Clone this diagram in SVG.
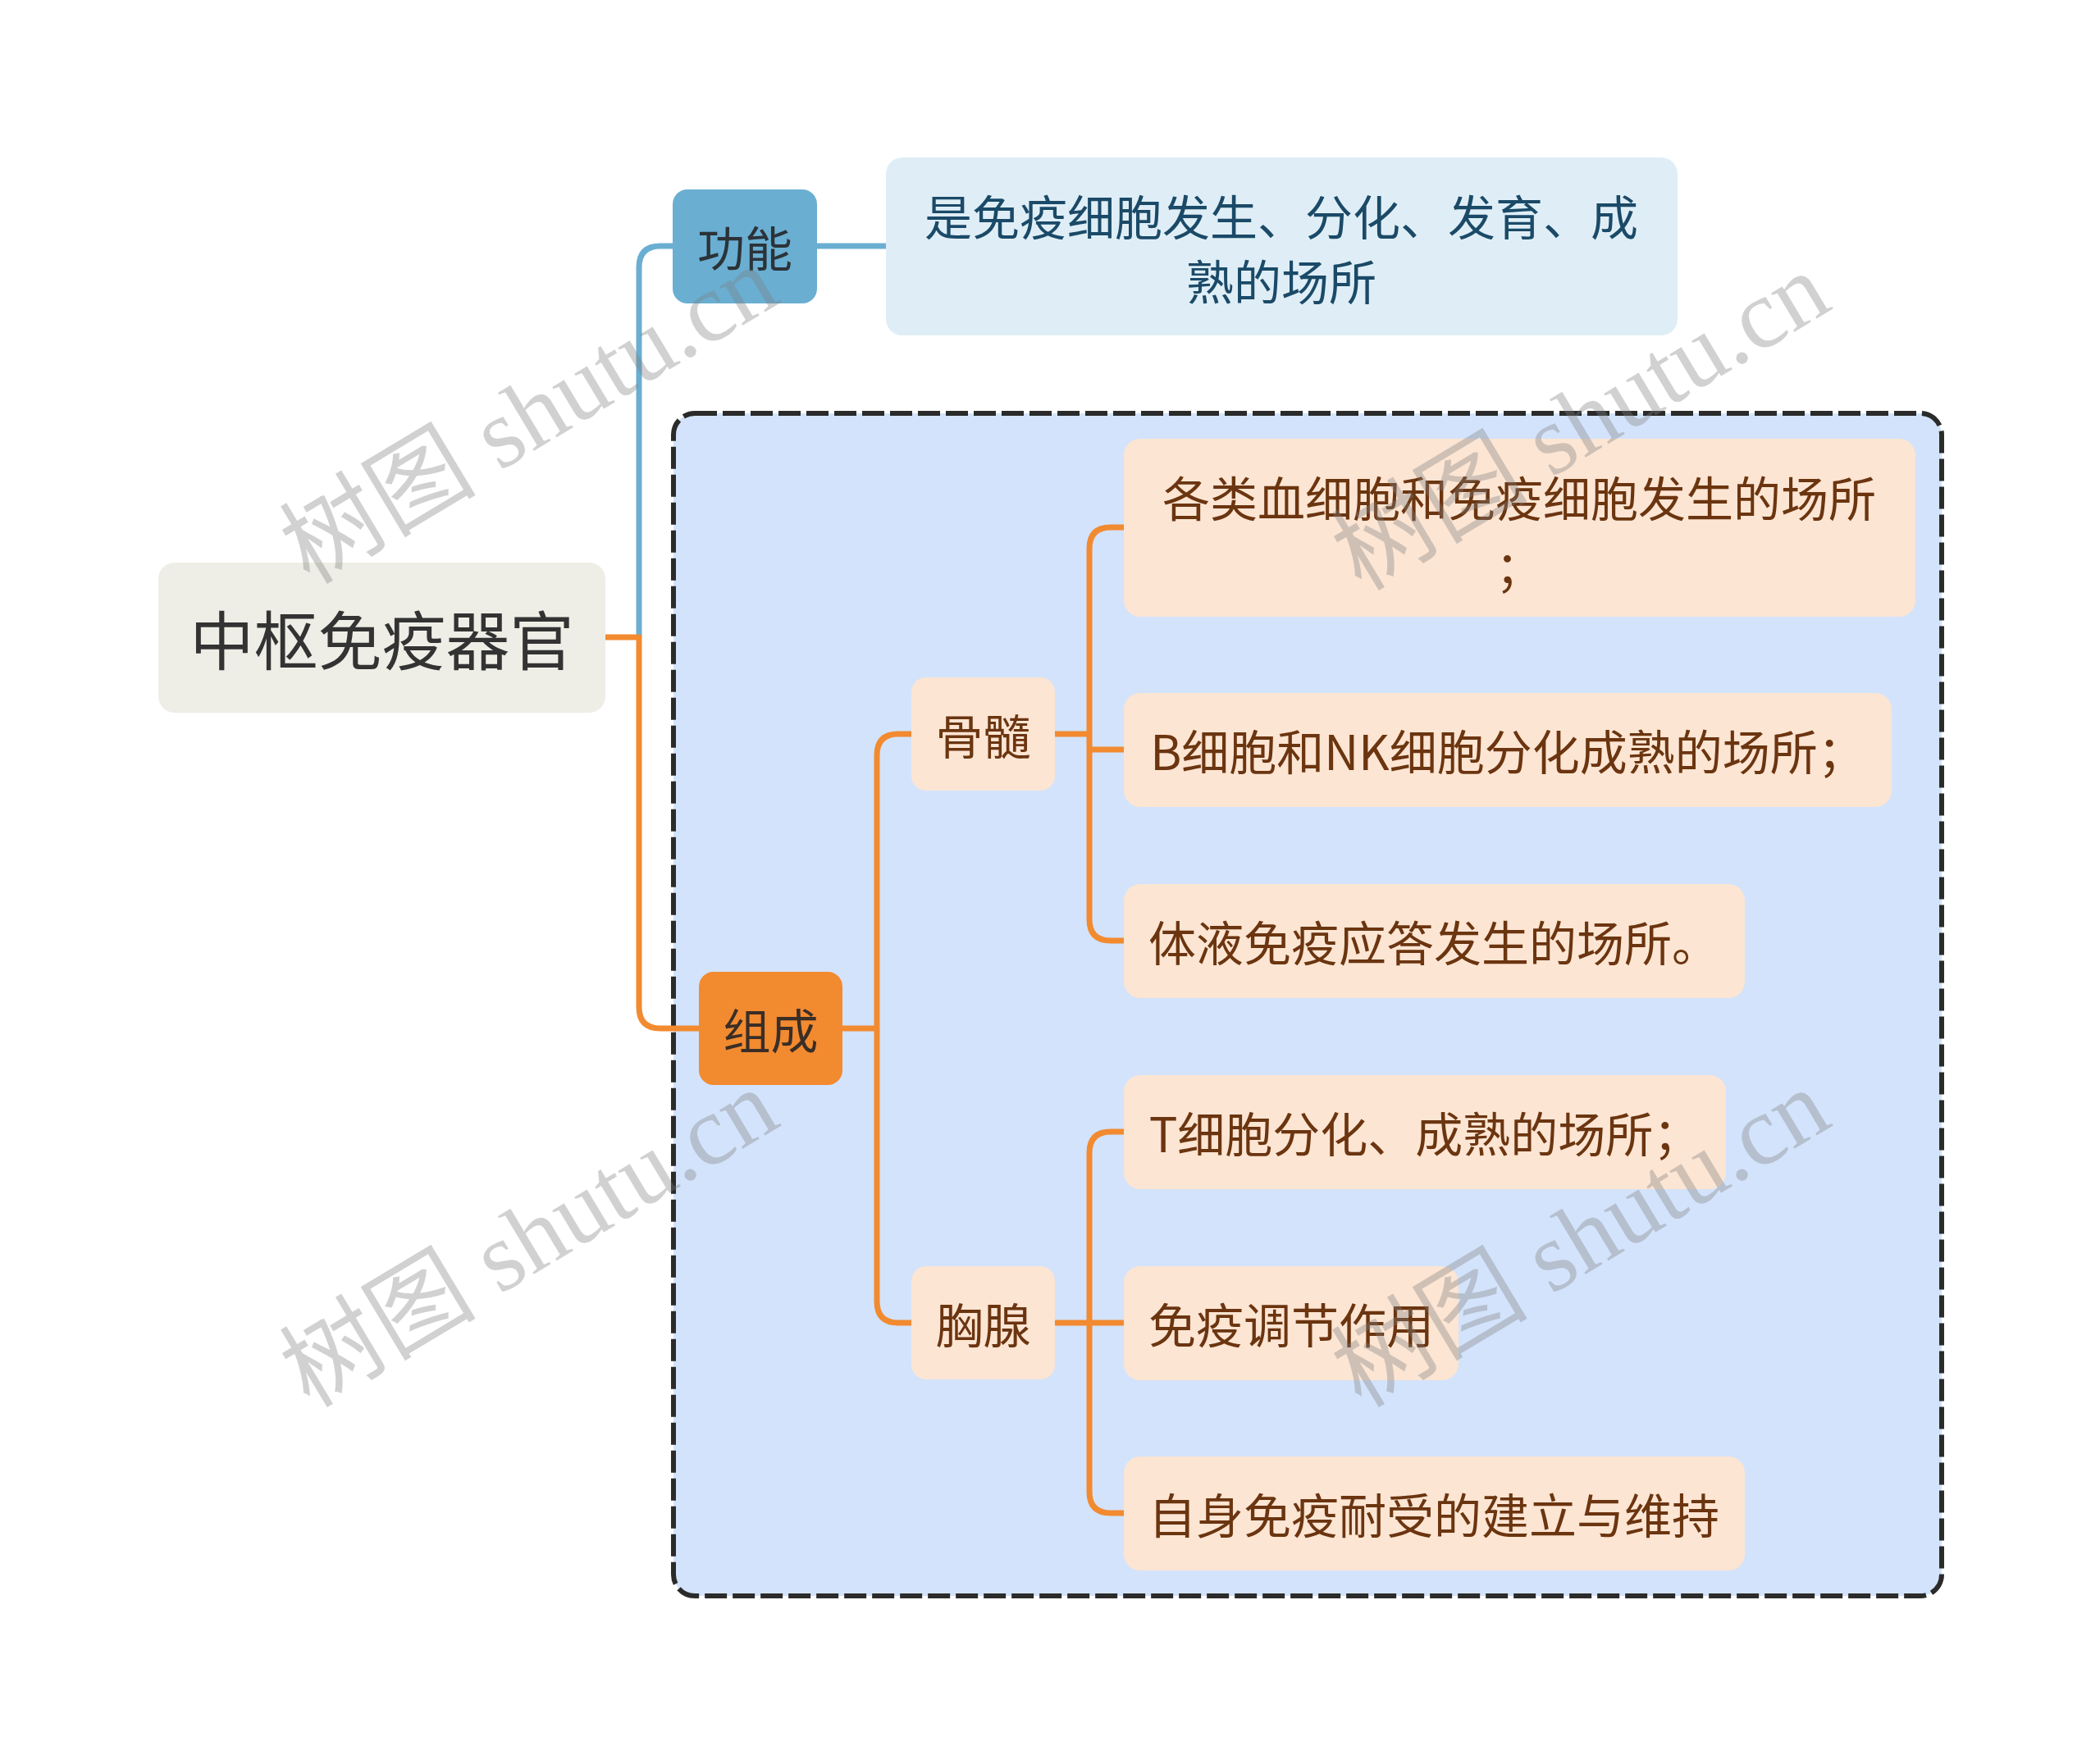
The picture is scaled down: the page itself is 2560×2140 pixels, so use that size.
<svg xmlns="http://www.w3.org/2000/svg" width="2560" height="2140" viewBox="0 0 2560 2140">
<style>
.t{font-family:"Noto Sans CJK SC","Noto Sans",sans-serif;text-anchor:middle;dominant-baseline:central}
.leaf{fill:#fce5d3}
.lt{fill:#6b3510;font-size:58px}
.or{fill:none;stroke:#f28a30;stroke-width:7;stroke-linejoin:round}
.bl{fill:none;stroke:#6aaed2;stroke-width:7}
.wm{font-family:"Liberation Serif","Noto Sans CJK SC",serif;font-size:120px;fill:#808080;fill-opacity:0.36}
</style>
<rect width="2560" height="2140" fill="#ffffff"/>
<g id="group-box">
<rect x="821" y="504" width="1546" height="1442" rx="26" fill="#d3e3fb" stroke="#2b2b2b" stroke-width="6" stroke-dasharray="27 7"/>
</g>
<g id="connectors">
<path class="bl" d="M779,777 V326 Q779,300 805,300 H822"/>
<path class="bl" d="M996,300 H1080"/>
<path class="or" d="M738,777 H779 V1228 Q779,1254 805,1254 H853"/>
<path class="or" d="M1027,1254 H1069"/>
<path class="or" d="M1111,895 H1095 Q1069,895 1069,921 V1587 Q1069,1613 1095,1613 H1111"/>
<path class="or" d="M1286,895 H1328"/>
<path class="or" d="M1370,643 H1354 Q1328,643 1328,669 V1121 Q1328,1147 1354,1147 H1370"/>
<path class="or" d="M1328,914 H1370"/>
<path class="or" d="M1286,1613 H1370"/>
<path class="or" d="M1370,1380 H1354 Q1328,1380 1328,1406 V1819 Q1328,1845 1354,1845 H1370"/>
</g>
<g id="root">
<rect x="193" y="686" width="545" height="183" rx="20" fill="#eeeee6"/>
<text class="t" x="465.5" y="777" font-size="78" fill="#333333">中枢免疫器官</text>
</g>
<g id="gongneng">
<rect x="820" y="231" width="176" height="139" rx="18" fill="#6aaed2"/>
<text class="t" x="908" y="300" font-size="58" fill="#2b3338">功能</text>
</g>
<g id="gongneng-desc">
<rect x="1080" y="192" width="965" height="217" rx="20" fill="#dfeef6"/>
<text class="t" x="1562" y="262" font-size="58" fill="#1b4a68">是免疫细胞发生、分化、发育、成</text>
<text class="t" x="1562" y="341" font-size="58" fill="#1b4a68">熟的场所</text>
</g>
<g id="zucheng">
<rect x="852" y="1185" width="175" height="138" rx="18" fill="#f28a30"/>
<text class="t" x="939.5" y="1254" font-size="58" fill="#3a2e26">组成</text>
</g>
<g id="gusui">
<rect class="leaf" x="1111" y="826" width="175" height="138" rx="18"/>
<text class="t lt" x="1198.5" y="895">骨髓</text>
</g>
<g id="xiongxian">
<rect class="leaf" x="1111" y="1544" width="175" height="138" rx="18"/>
<text class="t lt" x="1198.5" y="1613">胸腺</text>
</g>
<g id="leaf1">
<rect class="leaf" x="1370" y="535" width="965" height="217" rx="20"/>
<text class="t lt" x="1852" y="605">各类血细胞和免疫细胞发生的场所</text>
<text class="t lt" x="1852" y="689">；</text>
</g>
<g id="leaf2">
<rect class="leaf" x="1370" y="845" width="936" height="139" rx="20"/>
<text class="t lt" x="1838" y="914">B细胞和NK细胞分化成熟的场所；</text>
</g>
<g id="leaf3">
<rect class="leaf" x="1370" y="1078" width="757" height="139" rx="20"/>
<text class="t lt" x="1748" y="1147">体液免疫应答发生的场所。</text>
</g>
<g id="leaf4">
<rect class="leaf" x="1370" y="1311" width="734" height="139" rx="20"/>
<text class="t lt" x="1737" y="1380">T细胞分化、成熟的场所；</text>
</g>
<g id="leaf5">
<rect class="leaf" x="1370" y="1544" width="408" height="139" rx="20"/>
<text class="t lt" x="1574" y="1613">免疫调节作用</text>
</g>
<g id="leaf6">
<rect class="leaf" x="1370" y="1776" width="757" height="139" rx="20"/>
<text class="t lt" x="1748" y="1845">自身免疫耐受的建立与维持</text>
</g>
<g id="watermarks">
<text class="wm" text-anchor="middle" dominant-baseline="central" transform="translate(645,506) rotate(-31)">树图 shutu.cn</text>
<text class="wm" text-anchor="middle" dominant-baseline="central" transform="translate(1927,514) rotate(-31)">树图 shutu.cn</text>
<text class="wm" text-anchor="middle" dominant-baseline="central" transform="translate(645,1510) rotate(-31)">树图 shutu.cn</text>
<text class="wm" text-anchor="middle" dominant-baseline="central" transform="translate(1927,1510) rotate(-31)">树图 shutu.cn</text>
</g>
</svg>
